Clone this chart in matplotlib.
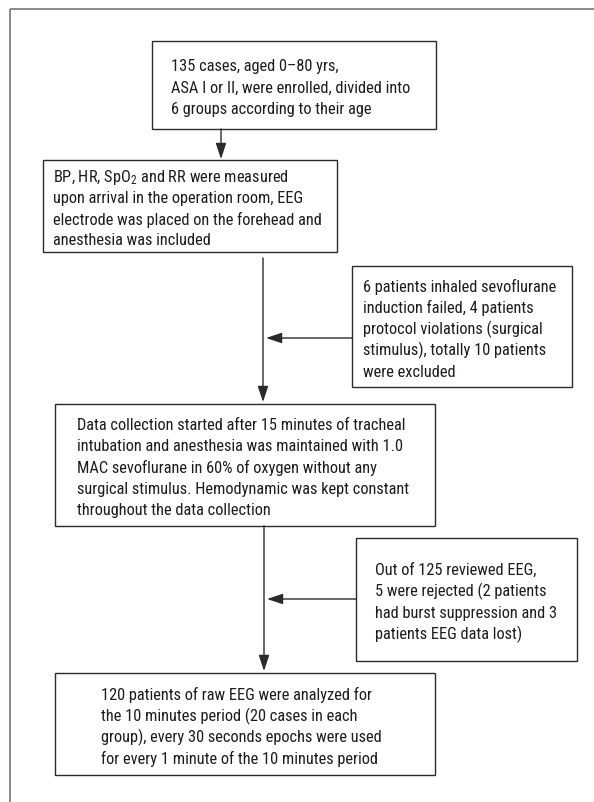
import matplotlib
matplotlib.use('Agg')
import matplotlib.pyplot as plt
from matplotlib import font_manager
from matplotlib.patches import Rectangle
import statistics

# ---------------- data (texts of the flowchart) ----------------
enrol_lines = [
    "135 cases, aged 0\u201380 yrs,",
    "ASA I or II, were enrolled, divided into",
    "6 groups according to their age",
]
monitor_lines = [
    "BP, HR, SpO$_\\mathregular{2}$ and RR were measured",
    "upon arrival in the operation room, EEG",
    "electrode was placed on the forehead and",
    "anesthesia was included",
]
exclusion1_lines = [
    "6 patients inhaled sevoflurane",
    "induction failed, 4 patients",
    "protocol violations (surgical",
    "stimulus), totally 10 patients",
    "were excluded",
]
collection_lines = [
    "Data collection started after 15 minutes of tracheal",
    "intubation and anesthesia was maintained with 1.0",
    "MAC sevoflurane in 60% of oxygen without any",
    "surgical stimulus. Hemodynamic was kept constant",
    "throughout the data collection",
]
exclusion2_lines = [
    "Out of 125 reviewed EEG,",
    "5 were rejected (2 patients",
    "had burst suppression and 3",
    "patients EEG data lost)",
]
final_lines = [
    "120 patients of raw EEG were analyzed for",
    "the 10 minutes period (20 cases in each",
    "group), every 30 seconds epochs were used",
    "for every 1 minute of the 10 minutes period",
]

# ---------------- font choice ----------------
names = {f.name for f in font_manager.fontManager.ttflist}
font_kw = None
for cand in ["Liberation Sans Narrow", "DejaVu Sans Condensed", "Roboto Condensed",
             "Open Sans Condensed"]:
    if cand in names:
        font_kw = dict(family=cand)
        break
if font_kw is None:
    if any(f.name == "DejaVu Sans" and str(f.stretch) in ("condensed", "semi-condensed")
           for f in font_manager.fontManager.ttflist):
        font_kw = dict(family="DejaVu Sans", fontstretch="condensed")
    else:
        font_kw = dict(family="Liberation Sans")
plt.rcParams['font.family'] = [font_kw['family'], 'DejaVu Sans']
plt.rcParams['mathtext.fontset'] = 'custom'
plt.rcParams['mathtext.rm'] = font_kw['family']

TEXT_COLOR = "#1e1c1d"
EDGE_COLOR = "#2b2b2b"
FRAME_COLOR = "#6b6b6b"

W, H = 594, 803
fig = plt.figure(figsize=(W / 100, H / 100), dpi=100)
ax = fig.add_axes([0, 0, 1, 1])
ax.set_xlim(0, W)
ax.set_ylim(H, 0)
ax.axis('off')

# outer (cropped) frame: top and left edges
ax.plot([10, W + 5], [9.5, 9.5], color=FRAME_COLOR, lw=1.1, solid_capstyle='butt')
ax.plot([10, 10], [9.5, H + 5], color=FRAME_COLOR, lw=1.1, solid_capstyle='butt')

# layout: (x0, y0, x1, y1, text_left, target_width_of_longest_line)
boxes = [
    (enrol_lines, (152, 42, 436, 130, 171, 245)),
    (monitor_lines, (43, 161, 337, 253, 53, 272)),
    (exclusion1_lines, (352, 267, 572, 388, 363, 196)),
    (collection_lines, (55, 405, 435, 527, 77, 332)),
    (exclusion2_lines, (356, 539, 577, 662, 375, 181)),
    (final_lines, (55, 674, 435, 776, 101, 281)),
]
LINE_GAP = 21.3
Y_SHIFT = 2.0

texts = []
for lines, (x0, y0, x1, y1, tx, tw) in boxes:
    ax.add_patch(Rectangle((x0, y0), x1 - x0, y1 - y0, fill=False,
                           edgecolor=EDGE_COLOR, lw=1.0))
    yc = (y0 + y1) / 2 + Y_SHIFT
    n = len(lines)
    group = []
    for i, ln in enumerate(lines):
        y = yc + (i - (n - 1) / 2) * LINE_GAP
        t = ax.text(tx, y, ln, ha='left', va='center', color=TEXT_COLOR,
                    fontsize=12, **font_kw)
        group.append(t)
    texts.append((group, tw))

# fit font size to the measured text widths
fig.canvas.draw()
r = fig.canvas.get_renderer()
ratios = []
for group, tw in texts:
    wmax = max(t.get_window_extent(renderer=r).width for t in group)
    ratios.append(tw / wmax)
fs = 12 * statistics.median(ratios)
fs = min(fs, 14.0)
for group, tw in texts:
    for t in group:
        t.set_fontsize(fs)

# arrows
def arrow(x0, y0, x1, y1):
    ax.annotate("", xy=(x1, y1), xytext=(x0, y0),
                arrowprops=dict(arrowstyle='-|>,head_length=0.6,head_width=0.2',
                                color=EDGE_COLOR, lw=1.0,
                                mutation_scale=16, shrinkA=0, shrinkB=0))

arrow(221, 130, 221, 160)
arrow(263, 259, 263, 403)
arrow(352, 339, 266, 339)
arrow(264, 527, 264, 672)
arrow(356, 600, 267, 600)

fig.savefig("out.png", dpi=100)
